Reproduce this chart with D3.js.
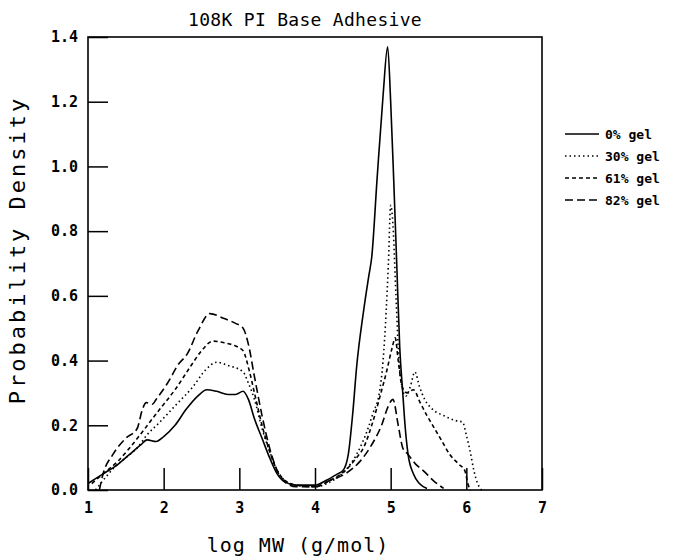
<!DOCTYPE html>
<html>
<head>
<meta charset="utf-8">
<script src="https://cdn.jsdelivr.net/npm/d3@7"></script>
<style>
  body { margin: 0; background: #fff; }
  .axis path { display: none; }
  .axis line { stroke: #000; stroke-width: 1.5; }
  .axis text { font-family: "DejaVu Sans Mono", monospace; font-size: 15px; font-weight: bold; fill: #000; }
</style>
</head>
<body>
<div id="chart"></div>
<script>
// Set the dimensions of the canvas / graph
var margin = {top: 37, right: 143, bottom: 70, left: 88},
    width = 685 - margin.left - margin.right,
    height = 560 - margin.top - margin.bottom;

// Data: [log MW, probability density]
var gel0 = [[1.0,0.02],[1.2,0.05],[1.4,0.08],[1.55,0.11],[1.7,0.14],[1.78,0.155],[1.9,0.15],[2.0,0.165],
  [2.15,0.2],[2.3,0.25],[2.45,0.29],[2.57,0.31],[2.7,0.305],[2.85,0.295],[2.95,0.295],[3.05,0.305],
  [3.12,0.28],[3.2,0.22],[3.3,0.16],[3.4,0.10],[3.5,0.05],[3.6,0.025],[3.75,0.015],[4.0,0.015],
  [4.15,0.03],[4.3,0.05],[4.37,0.06],[4.44,0.11],[4.5,0.24],[4.55,0.38],[4.64,0.55],[4.71,0.66],
  [4.75,0.72],[4.82,0.96],[4.9,1.22],[4.96,1.37],[5.0,1.2],[5.04,0.96],[5.08,0.7],[5.12,0.44],
  [5.16,0.30],[5.19,0.20],[5.23,0.11],[5.3,0.05],[5.38,0.02],[5.48,0.005]];
var gel30 = [[1.1,0],[1.2,0.03],[1.35,0.07],[1.5,0.10],[1.65,0.13],[1.78,0.17],[1.95,0.21],[2.15,0.26],
  [2.39,0.32],[2.55,0.37],[2.7,0.395],[2.85,0.385],[3.05,0.365],[3.12,0.33],[3.2,0.28],[3.3,0.19],
  [3.4,0.12],[3.5,0.06],[3.6,0.03],[3.75,0.015],[4.0,0.01],[4.2,0.025],[4.4,0.06],[4.55,0.11],
  [4.7,0.19],[4.77,0.24],[4.85,0.3],[4.9,0.4],[4.94,0.55],[4.97,0.7],[5.0,0.88],[5.03,0.82],
  [5.07,0.6],[5.11,0.4],[5.15,0.32],[5.2,0.29],[5.26,0.32],[5.32,0.365],[5.38,0.32],[5.45,0.28],
  [5.55,0.25],[5.7,0.23],[5.85,0.215],[5.95,0.21],[6.0,0.17],[6.05,0.12],[6.1,0.06],[6.15,0.02],[6.2,0]];
var gel61 = [[1.05,0.02],[1.2,0.05],[1.4,0.09],[1.55,0.13],[1.72,0.18],[1.85,0.22],[1.95,0.25],[2.15,0.31],
  [2.35,0.38],[2.5,0.43],[2.65,0.46],[2.8,0.455],[2.95,0.445],[3.05,0.43],[3.13,0.37],[3.2,0.3],
  [3.3,0.2],[3.4,0.12],[3.5,0.06],[3.6,0.03],[3.75,0.015],[4.0,0.01],[4.2,0.03],[4.4,0.06],
  [4.55,0.10],[4.64,0.13],[4.75,0.2],[4.86,0.29],[4.95,0.37],[5.02,0.44],[5.06,0.47],[5.1,0.4],
  [5.15,0.32],[5.22,0.3],[5.3,0.31],[5.39,0.27],[5.48,0.23],[5.58,0.19],[5.68,0.15],[5.78,0.11],
  [5.9,0.08],[5.98,0.06],[6.02,0.02],[6.05,0]];
var gel82 = [[1.15,0],[1.2,0.05],[1.33,0.11],[1.5,0.16],[1.65,0.19],[1.72,0.25],[1.77,0.27],[1.85,0.265],
  [1.9,0.28],[2.05,0.33],[2.2,0.39],[2.31,0.42],[2.45,0.49],[2.61,0.545],[2.8,0.53],[2.95,0.515],
  [3.05,0.50],[3.12,0.45],[3.2,0.35],[3.3,0.23],[3.4,0.13],[3.5,0.06],[3.6,0.025],[3.75,0.01],
  [4.0,0.01],[4.2,0.03],[4.4,0.05],[4.6,0.09],[4.75,0.14],[4.88,0.2],[4.97,0.26],[5.03,0.28],
  [5.1,0.2],[5.16,0.13],[5.23,0.11],[5.33,0.08],[5.43,0.06],[5.56,0.03],[5.7,0.005]];

var seriesNames = ["0% gel", "30% gel", "61% gel", "82% gel"];
var xTicks = [1, 2, 3, 4, 5, 6, 7];
var yTicks = [0, 0.2, 0.4, 0.6, 0.8, 1.0, 1.2, 1.4];

var series = [
  {name: seriesNames[0], values: gel0,  dash: null},
  {name: seriesNames[1], values: gel30, dash: "1.5,3"},
  {name: seriesNames[2], values: gel61, dash: "4,3"},
  {name: seriesNames[3], values: gel82, dash: "8,4"}
];

// Set the ranges
var x = d3.scaleLinear().domain([1, 7]).range([0, width]);
var y = d3.scaleLinear().domain([0, 1.4]).range([height, 0]);

var svg = d3.select("#chart")
  .append("svg")
    .attr("width", 685)
    .attr("height", 560)
  .append("g")
    .attr("transform", "translate(" + margin.left + "," + margin.top + ")");

// Frame
svg.append("rect")
  .attr("width", width)
  .attr("height", height)
  .attr("fill", "none")
  .attr("stroke", "#000")
  .attr("stroke-width", 1.6);

// Axes, ticks point inward
var xAxis = d3.axisBottom(x).tickValues(xTicks).tickSize(-22).tickPadding(12)
  .tickFormat(d3.format("d"));
svg.append("g")
  .attr("class", "axis")
  .attr("transform", "translate(0," + height + ")")
  .call(xAxis);

var yAxis = d3.axisLeft(y).tickValues(yTicks).tickSize(-20).tickPadding(10)
  .tickFormat(d3.format(".1f"));
svg.append("g")
  .attr("class", "axis")
  .call(yAxis);

// Lines
var line = d3.line()
  .x(function(d) { return x(d[0]); })
  .y(function(d) { return y(d[1]); })
  .curve(d3.curveMonotoneX);

series.forEach(function(s) {
  svg.append("path")
    .datum(s.values)
    .attr("fill", "none")
    .attr("stroke", "#000")
    .attr("stroke-width", 1.6)
    .attr("stroke-dasharray", s.dash)
    .attr("d", line);
});

// Legend
var legend = svg.append("g")
  .attr("transform", "translate(" + (width + 23) + ",97)");
series.forEach(function(s, i) {
  legend.append("line")
    .attr("x1", 0).attr("x2", 34)
    .attr("y1", i * 22).attr("y2", i * 22)
    .attr("stroke", "#000")
    .attr("stroke-width", 1.6)
    .attr("stroke-dasharray", s.dash);
  legend.append("text")
    .attr("x", 40)
    .attr("y", i * 22)
    .attr("dy", "0.35em")
    .style("font-family", "'DejaVu Sans Mono', monospace")
    .style("font-size", "13px")
    .style("font-weight", "bold")
    .text(s.name);
});

// Title
svg.append("text")
  .attr("x", width / 2 - 10)
  .attr("y", -11)
  .attr("text-anchor", "middle")
  .style("font-family", "'DejaVu Sans Mono', monospace")
  .style("font-size", "18px")
  .style("letter-spacing", "0.3px")
  .text("108K PI Base Adhesive");

// x axis label
svg.append("text")
  .attr("x", width / 2 - 17)
  .attr("y", height + 62)
  .attr("text-anchor", "middle")
  .style("font-family", "'DejaVu Sans Mono', monospace")
  .style("font-size", "20px")
  .style("letter-spacing", "1px")
  .text("log MW (g/mol)");

// y axis label
svg.append("text")
  .attr("transform", "rotate(-90)")
  .attr("x", -(250 - margin.top))
  .attr("y", -margin.left + 25)
  .attr("text-anchor", "middle")
  .style("font-family", "'DejaVu Sans Mono', monospace")
  .style("font-size", "22px")
  .style("letter-spacing", "3px")
  .text("Probability Density");
</script>
</body>
</html>
